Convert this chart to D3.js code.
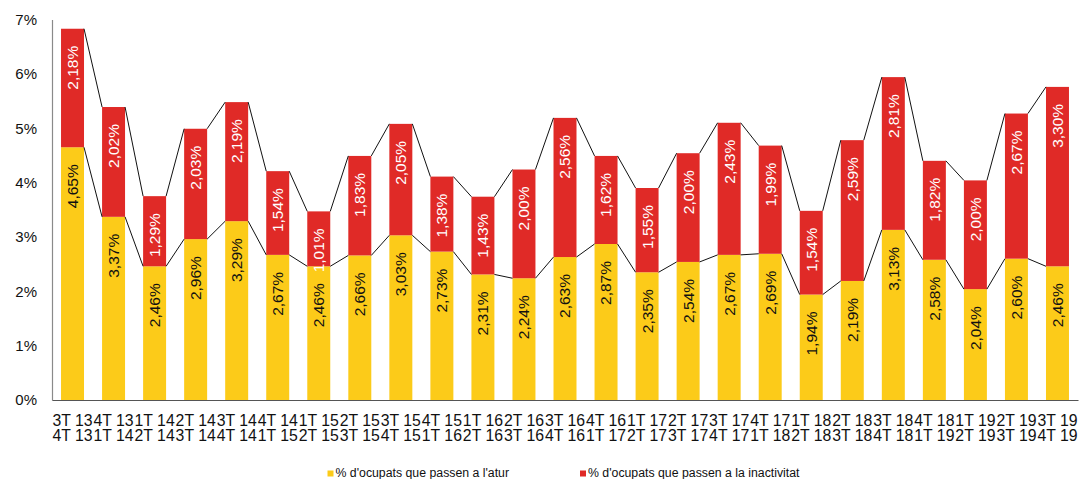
<!DOCTYPE html>
<html>
<head>
<meta charset="utf-8">
<script src="https://cdn.jsdelivr.net/npm/d3@7"></script>
<style>
  body { margin: 0; background: #fff; }
  svg { display: block; font-family: 'Liberation Sans', Arial, sans-serif; }
</style>
</head>
<body>
<div id="chart"></div>
<script>
// quarter labels, first and second line of each category
const fromQuarter = ['3T 13', '4T 13', '1T 14', '2T 14', '3T 14', '4T 14', '1T 15', '2T 15', '3T 15', '4T 15',
  '1T 16', '2T 16', '3T 16', '4T 16', '1T 17', '2T 17', '3T 17', '4T 17', '1T 18', '2T 18',
  '3T 18', '4T 18', '1T 19', '2T 19', '3T 19'];
const toQuarter = ['4T 13', '1T 14', '2T 14', '3T 14', '4T 14', '1T 15', '2T 15', '3T 15', '4T 15', '1T 16',
  '2T 16', '3T 16', '4T 16', '1T 17', '2T 17', '3T 17', '4T 17', '1T 18', '2T 18', '3T 18',
  '4T 18', '1T 19', '2T 19', '3T 19', '4T 19'];

// % d'ocupats que passen a l'atur
const atur = [4.65, 3.37, 2.46, 2.96, 3.29, 2.67, 2.46, 2.66, 3.03, 2.73,
  2.31, 2.24, 2.63, 2.87, 2.35, 2.54, 2.67, 2.69, 1.94, 2.19,
  3.13, 2.58, 2.04, 2.60, 2.46];
// % d'ocupats que passen a la inactivitat
const inactivitat = [2.18, 2.02, 1.29, 2.03, 2.19, 1.54, 1.01, 1.83, 2.05, 1.38,
  1.43, 2.00, 2.56, 1.62, 1.55, 2.00, 2.43, 1.99, 1.54, 2.59,
  2.81, 1.82, 2.00, 2.67, 3.30];

const yTicks = [0, 1, 2, 3, 4, 5, 6, 7];
const seriesNames = ["% d'ocupats que passen a l'atur", "% d'ocupats que passen a la inactivitat"];

const width = 1079;
const height = 479;
const yellow = '#fccb19';
const red = '#e02a27';

const svg = d3.select('#chart')
  .append('svg')
  .attr('width', width)
  .attr('height', height);

const idx = d3.range(atur.length);

const x = d3.scaleBand()
  .domain(idx)
  .range([52, 1078])
  .paddingInner(0.44)
  .paddingOuter(0.22);

const y = d3.scaleLinear().domain([0, 7]).range([400, 19.5]);

const fmt = (v) => v.toFixed(2).replace('.', ',') + '%';

// y axis
svg.append('g')
  .attr('transform', 'translate(52,0)')
  .call(d3.axisLeft(y).tickValues(yTicks).tickSize(0).tickPadding(15).tickFormat((d) => d + '%'))
  .call((g) => g.select('.domain').attr('stroke', '#8a8a8a').attr('stroke-width', 1.2))
  .call((g) => g.selectAll('.tick text')
    .attr('font-size', 15)
    .attr('fill', '#111')
    .attr('font-family', "'Liberation Sans', Arial, sans-serif"));

// bars
const bars = svg.append('g');

bars.selectAll('rect.atur')
  .data(idx)
  .join('rect')
  .attr('class', 'atur')
  .attr('x', (i) => x(i))
  .attr('width', x.bandwidth())
  .attr('y', (i) => y(atur[i]))
  .attr('height', (i) => y(0) - y(atur[i]))
  .attr('fill', yellow);

bars.selectAll('rect.inact')
  .data(idx)
  .join('rect')
  .attr('class', 'inact')
  .attr('x', (i) => x(i))
  .attr('width', x.bandwidth())
  .attr('y', (i) => y(atur[i] + inactivitat[i]))
  .attr('height', (i) => y(atur[i]) - y(atur[i] + inactivitat[i]))
  .attr('fill', red);

// series lines between bars
const links = svg.append('g')
  .attr('stroke', '#111')
  .attr('stroke-width', 1)
  .attr('fill', 'none');

idx.slice(0, -1).forEach((i) => {
  const a = [atur[i], atur[i] + inactivitat[i]];
  const b = [atur[i + 1], atur[i + 1] + inactivitat[i + 1]];
  for (let k = 0; k < 2; k++) {
    links.append('line')
      .attr('x1', x(i) + x.bandwidth())
      .attr('y1', y(a[k]))
      .attr('x2', x(i + 1))
      .attr('y2', y(b[k]));
  }
});

// x axis
svg.append('g')
  .attr('transform', 'translate(0,400)')
  .call(d3.axisBottom(x).tickSize(0).tickFormat(''))
  .call((g) => g.select('.domain').attr('stroke', '#555').attr('stroke-width', 1.2))
  .call((g) => g.selectAll('.tick').each(function (i) {
    const t = d3.select(this).append('text')
      .attr('fill', '#111')
      .attr('font-size', 15.8)
      .attr('text-anchor', 'middle');
    t.append('tspan').attr('x', 0).attr('y', 26).text(fromQuarter[i]);
    t.append('tspan').attr('x', 0).attr('y', 41).text(toQuarter[i]);
  }));

// value labels, inside end of each segment
const labels = svg.append('g')
  .attr('font-size', 15.5)
  .attr('text-anchor', 'end');

labels.selectAll('text.atur')
  .data(idx)
  .join('text')
  .attr('class', 'atur')
  .attr('transform', (i) => `translate(${x(i) + x.bandwidth() / 2},${y(atur[i]) + 17}) rotate(-90)`)
  .attr('dy', '0.35em')
  .attr('fill', '#111')
  .text((i) => fmt(atur[i]));

labels.selectAll('text.inact')
  .data(idx)
  .join('text')
  .attr('class', 'inact')
  .attr('transform', (i) => `translate(${x(i) + x.bandwidth() / 2},${y(atur[i] + inactivitat[i]) + 17}) rotate(-90)`)
  .attr('dy', '0.35em')
  .attr('fill', '#fff')
  .text((i) => fmt(inactivitat[i]));

// legend
const legend = svg.append('g').attr('font-size', 12.3).attr('fill', '#111');
const legendX = [327.5, 580];
const legendColors = [yellow, red];

seriesNames.forEach((name, k) => {
  legend.append('rect')
    .attr('x', legendX[k])
    .attr('y', 470.5)
    .attr('width', 6)
    .attr('height', 6)
    .attr('fill', legendColors[k]);
  legend.append('text')
    .attr('x', legendX[k] + 8)
    .attr('y', 477)
    .text(name);
});
</script>
</body>
</html>
